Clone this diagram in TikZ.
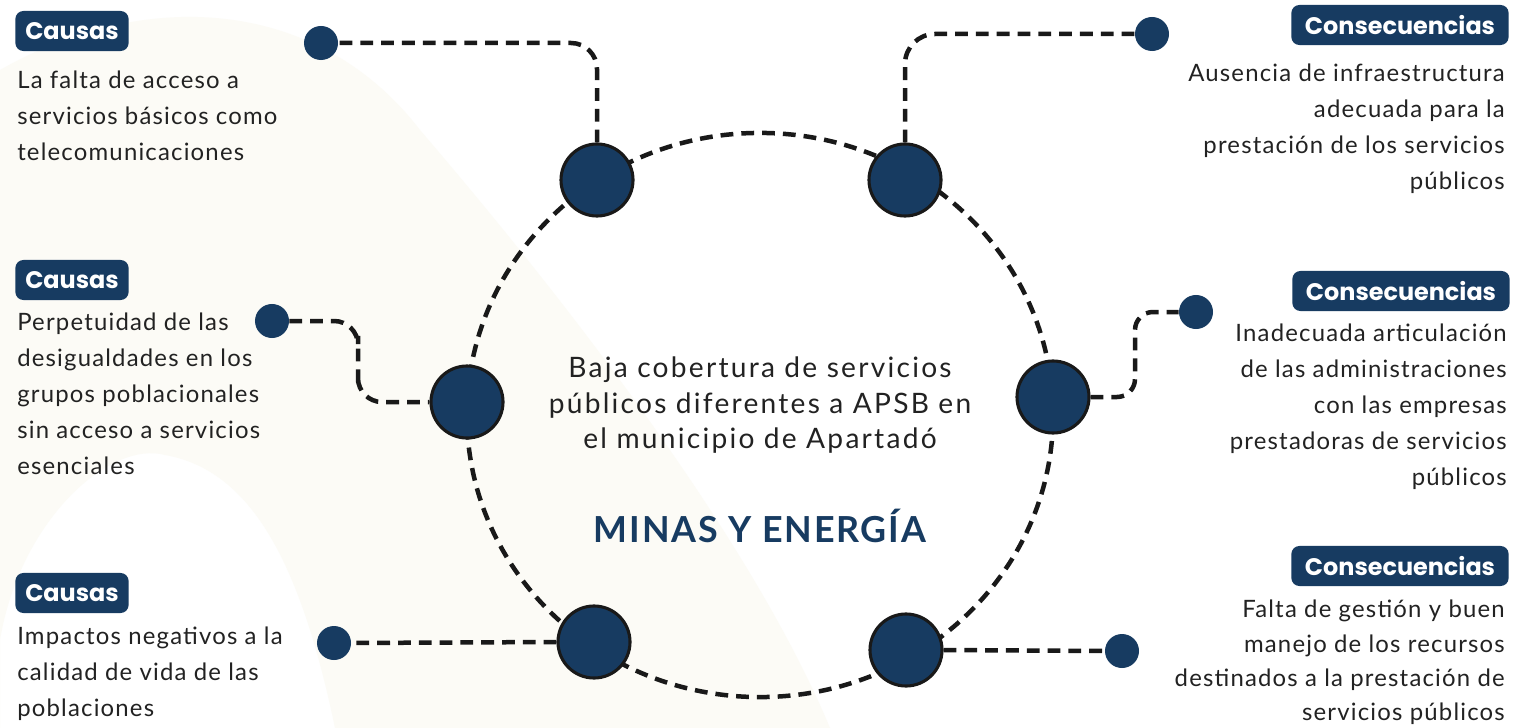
\documentclass[tikz,border=0pt]{standalone}
\usepackage{fontspec}
\setmainfont{Lato}[LetterSpace=5]
\newfontfamily\badgefont{Poppins}
\usepackage{xcolor}
\usepackage{tikz}
\usetikzlibrary{positioning,calc}
\definecolor{navy}{HTML}{173B61}
\definecolor{ink}{HTML}{222222}
\definecolor{beige}{HTML}{FCFBF6}

\begin{document}
\begin{tikzpicture}[x=0.025cm,y=-0.025cm,
  hub/.style={circle,draw=black!90,line width=2.2pt,fill=navy,minimum size=1.8cm,inner sep=0pt},
  endpt/.style={circle,fill=navy,minimum size=0.85cm,inner sep=0pt},
  badge/.style={rounded corners=0.2cm,fill=navy,text=white,inner sep=0pt,minimum height=1cm,
    font=\badgefont\bfseries\fontsize{17}{20}\selectfont},
  txt/.style={inner sep=0pt,text=ink,font=\fontsize{17}{25.6}\selectfont},
  dsh/.style={line width=3.2pt,draw=black!90,dash pattern=on 0.32cm off 0.2cm}]
 \useasboundingbox[fill=white] (0,0) rectangle (1518,728);
 % ---- background ----
 \fill[beige,even odd rule] (0,70) .. controls (150,-15) and (320,0) .. (420,130)
   .. controls (600,340) and (760,560) .. (830,728) -- (0,728) -- cycle
   (0,640) .. controls (20,520) and (110,440) .. (165,455)
   .. controls (250,470) and (300,560) .. (335,728) -- (0,728) -- cycle;
 % ---- ring ----
 \draw[dsh] (760,415) ellipse [x radius=7.325cm,y radius=7.05cm];
 \node[hub] (b1) at (597,180) {};
 \node[hub] (b2) at (905,180) {};
 \node[hub] (b3) at (467,402) {};
 \node[hub] (b4) at (1053,397) {};
 \node[hub] (b5) at (594,642) {};
 \node[hub] (b6) at (906,650) {};
 % ---- end points ----
 \node[endpt] (d1) at (321,43) {};
 \node[endpt] (d2) at (1152,34) {};
 \node[endpt] (d3) at (272,321) {};
 \node[endpt] (d4) at (1196,312) {};
 \node[endpt] (d5) at (334,643) {};
 \node[endpt] (d6) at (1122,651) {};
 \coordinate (m3) at (358,360);
 \coordinate (m4) at (1135,355);
 \draw[dsh,rounded corners=0.65cm] (b1.north) |- (d1.east);
 \draw[dsh,rounded corners=0.75cm] (b2.north) |- (d2.west);
 \draw[dsh,rounded corners=0.6cm] (d3.east) -| (m3) |- (b3.west);
 \draw[dsh,rounded corners=0.45cm] (b4.east) -| (m4) |- (d4.west);
 \draw[dsh] (b5.west) -- (d5.east);
 \draw[dsh] (b6.east) -- (d6.west);
 % ---- centre ----
 \node[txt,align=center,anchor=north,font=\fontsize{20}{25.2}\selectfont\addfontfeature{LetterSpace=8}] (ctr) at (760,357)
   {Baja cobertura de servicios\\públicos diferentes a APSB en\\el municipio de Apartadó};
 \node[anchor=base,text=navy,font=\bfseries\fontsize{25.5}{30}\selectfont] (sec) at (760,542) {MINAS Y ENERGÍA};
 % ---- causas ----
 \node[badge,minimum width=2.83cm] (c1) at (72,31) {Causas};
 \node[badge,minimum width=2.83cm] (c2) at (72,280) {Causas};
 \node[badge,minimum width=2.83cm] (c3) at (72,593) {Causas};
 \node[txt,align=left,anchor=north west] (ct1) at (17,71)
   {La falta de acceso a\\servicios básicos como\\telecomunicaciones};
 \node[txt,align=left,anchor=north west] (ct2) at (17,313)
   {Perpetuidad de las\\desigualdades en los\\grupos poblacionales\\sin acceso a servicios\\esenciales};
 \node[txt,align=left,anchor=north west] (ct3) at (17,627)
   {Impactos negativos a la\\calidad de vida de las\\poblaciones};
 % ---- consecuencias ----
 \node[badge,minimum width=5.43cm] (k1) at (1400,25) {Consecuencias};
 \node[badge,minimum width=5.43cm] (k2) at (1401,291) {Consecuencias};
 \node[badge,minimum width=5.43cm] (k3) at (1400,566) {Consecuencias};
 \node[txt,align=right,anchor=north east] (kt1) at (1505,64)
   {Ausencia de infraestructura\\adecuada para la\\prestación de los servicios\\públicos};
 \node[txt,align=right,anchor=north east] (kt2) at (1507,324)
   {Inadecuada articulación\\de las administraciones\\con las empresas\\prestadoras de servicios\\públicos};
 \node[txt,align=right,anchor=north east,font=\fontsize{17}{24.4}\selectfont] (kt3) at (1505,600)
   {Falta de gestión y buen\\manejo de los recursos\\destinados a la prestación de\\servicios públicos};
\end{tikzpicture}
\end{document}
